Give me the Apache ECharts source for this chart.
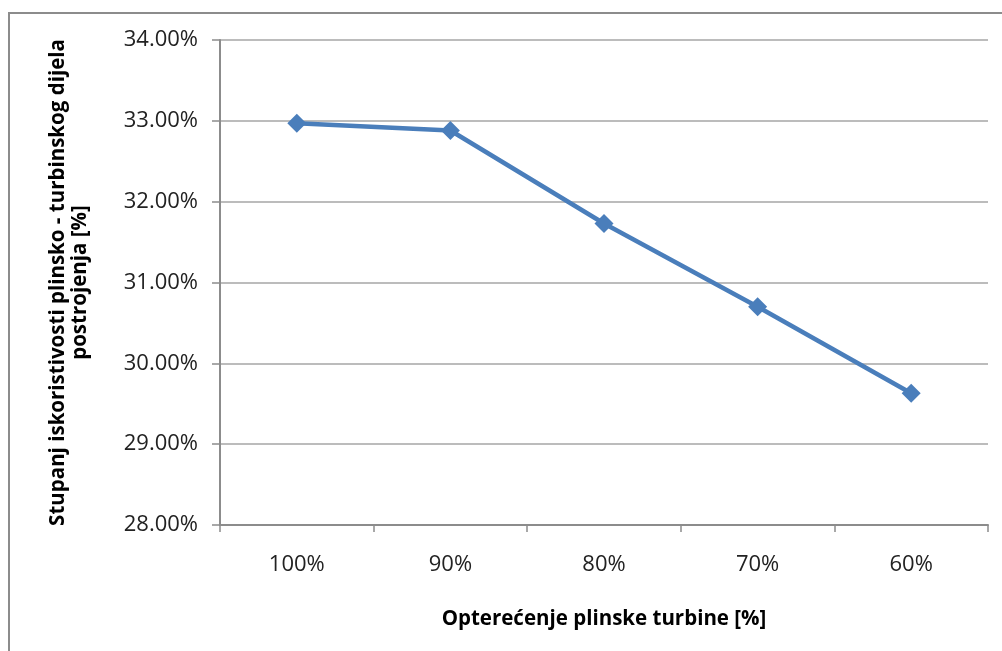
<!DOCTYPE html>
<html>
<head>
<meta charset="utf-8">
<script src="https://cdn.jsdelivr.net/npm/echarts@6/dist/echarts.min.js"></script>
<style>
  html, body { margin: 0; padding: 0; background: #fff; }
  #chart { width: 1002px; height: 651px; }
</style>
</head>
<body>
<div id="chart"></div>
<script>
// opterecenje plinske turbine
const loads = ['100%', '90%', '80%', '70%', '60%']
// stupanj iskoristivosti [%]
const efficiency = [32.97, 32.88, 31.73, 30.70, 29.63]

const font = '"Open Sans", sans-serif'

const myChart = echarts.init(document.getElementById('chart'))

myChart.setOption({
  animation: false,
  backgroundColor: '#fff',
  graphic: [
    {
      type: 'rect',
      shape: { x: 9, y: 13, width: 1010, height: 660 },
      style: { fill: 'none', stroke: '#8c8c8c', lineWidth: 2 },
      silent: true,
    },
  ],
  grid: {
    left: 220,
    right: 14,
    top: 40,
    bottom: 126,
  },
  xAxis: {
    type: 'category',
    data: loads,
    boundaryGap: true,
    name: 'Opterećenje plinske turbine [%]',
    nameLocation: 'middle',
    nameGap: 84,
    nameTextStyle: {
      fontFamily: font,
      fontWeight: 'bold',
      fontSize: 20.5,
      color: '#000',
    },
    axisLine: { lineStyle: { color: '#8c8c8c', width: 2 } },
    axisTick: { show: true, length: 7, lineStyle: { color: '#8c8c8c', width: 1.5 } },
    axisLabel: {
      fontFamily: font,
      fontSize: 22,
      color: '#222',
      margin: 29,
    },
    splitLine: { show: false },
  },
  yAxis: {
    type: 'value',
    min: 28,
    max: 34,
    interval: 1,
    name: 'Stupanj iskoristivosti plinsko - turbinskog dijela\npostrojenja [%]',
    nameLocation: 'middle',
    nameRotate: 90,
    nameGap: 129,
    nameTextStyle: {
      fontFamily: font,
      fontWeight: 'bold',
      fontSize: 20.5,
      color: '#000',
      lineHeight: 22,
    },
    axisLine: { show: true, lineStyle: { color: '#8c8c8c', width: 2 } },
    axisTick: { show: true, length: 8, lineStyle: { color: '#8c8c8c', width: 1.5 } },
    axisLabel: {
      fontFamily: font,
      fontSize: 22,
      color: '#222',
      margin: 22,
      formatter: (v) => v.toFixed(2) + '%',
    },
    splitLine: { lineStyle: { color: '#a6a6a6', width: 1.5 } },
  },
  series: [
    {
      type: 'line',
      data: efficiency,
      symbol: 'diamond',
      symbolSize: 19,
      lineStyle: { color: '#4a7ebb', width: 4.5 },
      itemStyle: { color: '#4a7ebb' },
    },
  ],
})
</script>
</body>
</html>
